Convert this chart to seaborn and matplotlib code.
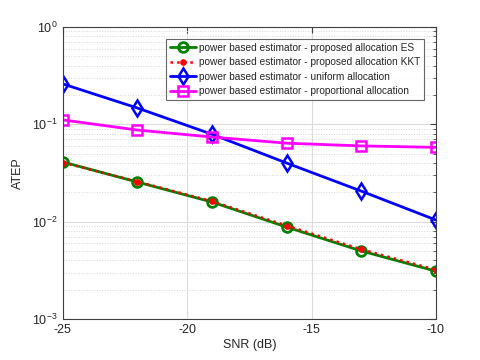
import numpy as np
import pandas as pd
import matplotlib
matplotlib.use('Agg')
import matplotlib.pyplot as plt
import seaborn as sns
from matplotlib.ticker import LogLocator, NullFormatter

# Values
snr = [-25, -22, -19, -16, -13, -10]
atep_es = [0.041, 0.0255, 0.0159, 0.0088, 0.0050, 0.0031]
atep_kkt = [0.0405, 0.0258, 0.0162, 0.0091, 0.0052, 0.0032]
atep_uniform = [0.26, 0.147, 0.079, 0.040, 0.0206, 0.0104]
atep_proportional = [0.111, 0.0873, 0.074, 0.064, 0.060, 0.058]

labels = ['power based estimator - proposed allocation ES',
          'power based estimator - proposed allocation KKT',
          'power based estimator - uniform allocation',
          'power based estimator - proportional allocation']

sns.set_style('white')
plt.rcParams['font.family'] = ['Liberation Sans', 'DejaVu Sans']
plt.rcParams['axes.unicode_minus'] = False

fig = plt.figure(figsize=(4.8, 3.6), dpi=100)
ax = fig.add_axes([0.131, 0.114, 0.777, 0.811])

sns.lineplot(x=snr, y=atep_es, ax=ax, color='green', lw=2, marker='o',
             markersize=7, markerfacecolor='none', markeredgecolor='green',
             markeredgewidth=2, label=labels[0])
sns.lineplot(x=snr, y=atep_kkt, ax=ax, color='red', lw=1.8, linestyle=':',
             marker='o', markersize=4, markerfacecolor='red',
             markeredgecolor='red', label=labels[1])
sns.lineplot(x=snr, y=atep_uniform, ax=ax, color='blue', lw=2, marker='d',
             markersize=8, markerfacecolor='none', markeredgecolor='blue',
             markeredgewidth=1.8, label=labels[2])
sns.lineplot(x=snr, y=atep_proportional, ax=ax, color='magenta', lw=2,
             marker='s', markersize=6.5, markerfacecolor='none',
             markeredgecolor='magenta', markeredgewidth=1.8, label=labels[3])

ax.set_yscale('log')
ax.set_xlim(-25, -10)
ax.set_ylim(1e-3, 1)
ax.set_xticks([-25, -20, -15, -10])
ax.yaxis.set_major_locator(LogLocator(base=10, numticks=10))
ax.yaxis.set_minor_locator(LogLocator(base=10, subs=np.arange(2, 10), numticks=10))
ax.yaxis.set_minor_formatter(NullFormatter())

ax.grid(True, which='major', color='#dcdcdc', linewidth=0.8)
ax.grid(True, which='minor', axis='y', color='#d8d8d8', linestyle=':', linewidth=0.7)
ax.set_axisbelow(True)

for s in ax.spines.values():
    s.set_color('#404040')
    s.set_linewidth(0.8)
ax.tick_params(which='both', direction='in', top=True, right=True,
               labelsize=9, colors='#404040', labelcolor='#262626')
ax.tick_params(which='major', length=4)
ax.tick_params(which='minor', length=2)

ax.set_xlabel('SNR (dB)', fontsize=9, color='#262626', labelpad=2)
ax.set_ylabel('ATEP', fontsize=9, color='#262626', labelpad=6)

leg = ax.legend(loc='upper right', fontsize=7.3, frameon=True, fancybox=False,
                edgecolor='#404040', borderpad=0.35, handlelength=2.6,
                handletextpad=0.25, labelspacing=0.45, borderaxespad=1.2)
leg.get_frame().set_linewidth(0.8)

fig.savefig('out.png', dpi=100)
